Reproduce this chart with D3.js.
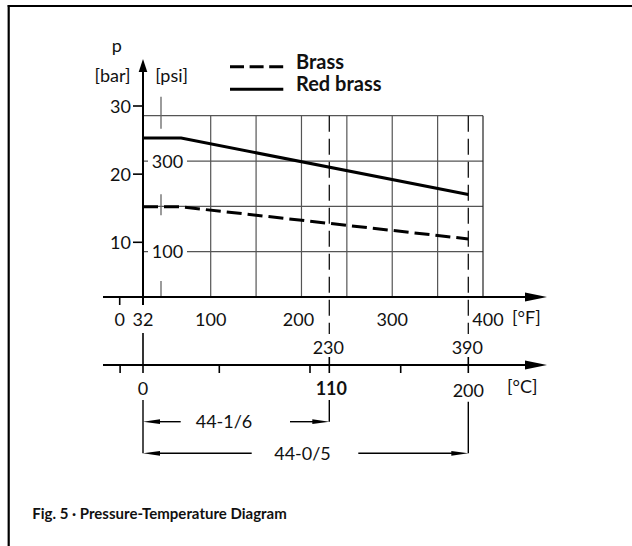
<!DOCTYPE html>
<html>
<head>
<meta charset="utf-8">
<script src="https://cdn.jsdelivr.net/npm/d3@7"></script>
<style>
  html, body { margin: 0; padding: 0; background: #fff; }
  svg { display: block; }
  text { font-family: Lato, "Open Sans", sans-serif; fill: #111; }
</style>
</head>
<body>
<svg id="chart" width="632" height="546"></svg>
<script>
// ---- data ----
const tempC = [0, 25, 200];                 // curve break points [°C]
const redBrass = [25.3, 25.3, 17];          // bar
const brass = [15.2, 15.2, 10.5];           // bar
const seriesNames = ["Brass", "Red brass"];
const fTicks = [0, 32, 100, 200, 300, 400];
const fGrid = [100, 150, 200, 250, 300, 350, 400];
const cTicksMinor = [-15, 50, 100, 150];
const cLabels = [0, 110, 200];
const fMarks = [230, 390];
const barTicks = [10, 20, 30];
const psiGrid = [100, 200, 300, 400];
const psiLabels = [100, 300];
const psiMarks = [0, 200, 400];
const dims = [{label: "44-1/6", to: 110}, {label: "44-0/5", to: 200}];
const caption = "Fig. 5 · Pressure-Temperature Diagram";

// ---- scales ----
const xF = d3.scaleLinear().domain([0, 32, 100, 400]).range([119.7, 143, 210.7, 483]);
const xC = d3.scaleLinear().domain([0, 50, 100, 110, 150, 200]).range([143, 219.3, 310, 329.3, 400.7, 468.3]);
const yBar = d3.scaleLinear().domain([10, 30]).range([242.3, 106]);
const yPsi = d3.scaleLinear().domain([0, 400]).range([297, 115.7]);

const svg = d3.select("#chart");
const FS = 18;
const yAxisX = xC(0);
const fAxisY = yPsi(0);
const cAxisY = 365;
const axisStart = 103, axisEnd = 547;
const gridTop = yPsi(400), gridRight = xF(400);

// frame
svg.append("line").attr("x1", 7.7).attr("x2", 632).attr("y1", 6).attr("y2", 6).attr("stroke", "#000").attr("stroke-width", 2.2);
svg.append("line").attr("x1", 8.7).attr("x2", 8.7).attr("y1", 5).attr("y2", 546).attr("stroke", "#000").attr("stroke-width", 2.2);

// grid
const grid = svg.append("g").attr("stroke", "#555").attr("stroke-width", 1.2);
grid.selectAll("line.h").data(psiGrid).join("line")
  .attr("x1", yAxisX).attr("x2", gridRight)
  .attr("y1", d => yPsi(d)).attr("y2", d => yPsi(d));
grid.selectAll("line.v").data(fGrid).join("line")
  .attr("x1", d => xF(d)).attr("x2", d => xF(d))
  .attr("y1", fAxisY).attr("y2", gridTop)
  .attr("stroke", d => d === 400 ? "#222" : "#555");

// psi axis marks (x = 161)
const psiX = 161;
const markExt = {0: [-16, 0], 200: [-12, 9], 400: [-19, 13]};
svg.append("g").attr("stroke", "#666").attr("stroke-width", 1.3)
  .selectAll("line").data(psiMarks).join("line")
  .attr("x1", psiX).attr("x2", psiX)
  .attr("y1", d => yPsi(d) + markExt[d][0]).attr("y2", d => yPsi(d) + markExt[d][1]);

// psi labels with white background
const pl = svg.append("g");
pl.selectAll("rect").data(psiLabels).join("rect")
  .attr("x", 148).attr("y", d => yPsi(d) - 8).attr("width", 39).attr("height", 16).attr("fill", "#fff");
pl.selectAll("text").data(psiLabels).join("text")
  .attr("x", 167.5).attr("y", d => yPsi(d) + 6.5).attr("text-anchor", "middle")
  .attr("font-size", FS).text(d => d);

// dashed marker verticals (110 °C / 230 °F and 200 °C / 390 °F)
svg.append("g").attr("stroke", "#111").attr("stroke-width", 1.3).attr("stroke-dasharray", "16,7")
  .selectAll("line").data(cLabels.slice(1)).join("line")
  .attr("x1", d => xC(d)).attr("x2", d => xC(d))
  .attr("y1", gridTop).attr("y2", 334);

// curves
const line = d3.line().x((d, i) => xC(tempC[i])).y(d => yBar(d));
svg.append("path").attr("d", line(redBrass)).attr("fill", "none").attr("stroke", "#000").attr("stroke-width", 3);
svg.append("path").attr("d", line(brass)).attr("fill", "none").attr("stroke", "#000").attr("stroke-width", 3).attr("stroke-dasharray", "15,6");

// y axis (bar)
svg.append("line").attr("x1", yAxisX).attr("x2", yAxisX).attr("y1", 305).attr("y2", 70).attr("stroke", "#000").attr("stroke-width", 2);
svg.append("path").attr("d", `M${yAxisX},59 L${yAxisX - 4.3},72 L${yAxisX + 4.3},72 Z`).attr("fill", "#000");
svg.append("g").attr("stroke", "#000").attr("stroke-width", 1.6)
  .selectAll("line").data(barTicks).join("line")
  .attr("x1", yAxisX - 10).attr("x2", yAxisX).attr("y1", d => yBar(d)).attr("y2", d => yBar(d));
svg.append("g").selectAll("text").data(barTicks).join("text")
  .attr("x", 131).attr("y", d => yBar(d) + 6.5).attr("text-anchor", "end").attr("font-size", FS).text(d => d);
svg.append("text").attr("x", 116.7).attr("y", 52).attr("text-anchor", "middle").attr("font-size", FS).text("p");
svg.append("text").attr("x", 112.5).attr("y", 81.5).attr("text-anchor", "middle").attr("font-size", FS).text("[bar]");
svg.append("text").attr("x", 171.7).attr("y", 81.5).attr("text-anchor", "middle").attr("font-size", FS).text("[psi]");

// F axis
svg.append("line").attr("x1", axisStart).attr("x2", axisEnd - 20).attr("y1", fAxisY).attr("y2", fAxisY).attr("stroke", "#000").attr("stroke-width", 2);
svg.append("path").attr("d", `M${axisEnd},${fAxisY} L${axisEnd - 22},${fAxisY - 4.5} L${axisEnd - 22},${fAxisY + 4.5} Z`).attr("fill", "#000");
svg.append("line").attr("x1", xF(0)).attr("x2", xF(0)).attr("y1", fAxisY).attr("y2", fAxisY + 8).attr("stroke", "#000").attr("stroke-width", 1.6);
svg.append("g").selectAll("text").data(fTicks).join("text")
  .attr("x", d => xF(d) + (d === 400 ? 5 : d === 200 ? -3 : 0))
  .attr("y", 325.5).attr("text-anchor", "middle").attr("font-size", FS).text(d => d);
svg.append("text").attr("x", 512).attr("y", 324).attr("font-size", FS).text("[°F]");

// F marks labels (230, 390)
svg.append("g").selectAll("text").data(fMarks).join("text")
  .attr("x", (d, i) => xC(cLabels[i + 1]) - 1).attr("y", 353.8).attr("text-anchor", "middle").attr("font-size", FS).text(d => d);

// C axis
svg.append("line").attr("x1", axisStart).attr("x2", axisEnd - 20).attr("y1", cAxisY).attr("y2", cAxisY).attr("stroke", "#000").attr("stroke-width", 2);
svg.append("path").attr("d", `M${axisEnd},${cAxisY} L${axisEnd - 22},${cAxisY - 4.5} L${axisEnd - 22},${cAxisY + 4.5} Z`).attr("fill", "#000");
svg.append("g").attr("stroke", "#000").attr("stroke-width", 1.6)
  .selectAll("line").data(cTicksMinor).join("line")
  .attr("x1", d => xC(d)).attr("x2", d => xC(d)).attr("y1", cAxisY).attr("y2", cAxisY + 8);
// verticals crossing the C axis
svg.append("g").attr("stroke", "#000").attr("stroke-width", 1.6)
  .selectAll("line").data(cLabels).join("line")
  .attr("x1", d => xC(d)).attr("x2", d => xC(d))
  .attr("y1", d => d === 0 ? 333 : 357).attr("y2", 373);
svg.append("g").selectAll("text").data(cLabels).join("text")
  .attr("x", d => xC(d) + (d === 110 ? 2 : 0)).attr("y", d => d === 200 ? 397 : 394.5)
  .attr("text-anchor", "middle").attr("font-size", FS)
  .attr("font-weight", d => d === 110 ? "bold" : "normal").text(d => d);
svg.append("text").attr("x", 507).attr("y", 392.5).attr("font-size", FS).text("[°C]");

// dimension lines
const dimY = [421.7, 453.3];
const dimText = [{x: 224, gapL: 180.7, gapR: 290}, {x: 302.5, gapL: 251.7, gapR: 358.3}];
const dg = svg.append("g");
dims.forEach((dm, i) => {
  const y = dimY[i];
  const xr = xC(dm.to);
  dg.append("line").attr("x1", xr).attr("x2", xr).attr("y1", i === 0 ? 400 : 401.7).attr("y2", y).attr("stroke", "#000").attr("stroke-width", 1.4);
  dg.append("line").attr("x1", dimText[i].gapR).attr("x2", xr - 14).attr("y1", y).attr("y2", y).attr("stroke", "#000").attr("stroke-width", 1.4);
  dg.append("line").attr("x1", yAxisX + 14).attr("x2", dimText[i].gapL).attr("y1", y).attr("y2", y).attr("stroke", "#000").attr("stroke-width", 1.4);
  dg.append("path").attr("d", `M${yAxisX},${y} L${yAxisX + 17},${y - 2.4} L${yAxisX + 17},${y + 2.4} Z`).attr("fill", "#000");
  dg.append("path").attr("d", `M${xr},${y} L${xr - 17},${y - 2.4} L${xr - 17},${y + 2.4} Z`).attr("fill", "#000");
  dg.append("text").attr("x", dimText[i].x).attr("y", y + 6.5).attr("text-anchor", "middle").attr("font-size", FS).text(dm.label);
});
dg.append("line").attr("x1", yAxisX).attr("x2", yAxisX).attr("y1", 400).attr("y2", dimY[1]).attr("stroke", "#000").attr("stroke-width", 1.4);

// legend
const lg = svg.append("g");
const legY = [66.7, 89.3];
seriesNames.forEach((n, i) => {
  lg.append("line").attr("x1", 230).attr("x2", 283.3).attr("y1", legY[i]).attr("y2", legY[i])
    .attr("stroke", "#000").attr("stroke-width", 3).attr("stroke-dasharray", i === 0 ? "14,5.6" : null);
  lg.append("text").attr("x", 296).attr("y", legY[i] + 2).attr("font-size", 20).attr("font-weight", "bold").text(n);
});

// caption
svg.append("text").attr("x", 32.3).attr("y", 518.5).attr("font-size", 15).attr("font-weight", "bold").text(caption);
</script>
</body>
</html>
